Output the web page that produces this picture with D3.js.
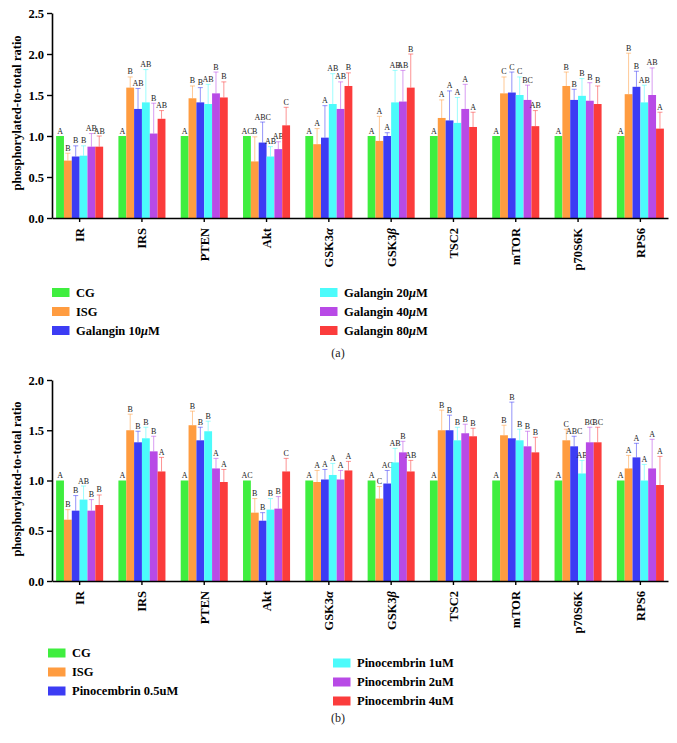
<!DOCTYPE html>
<html><head><meta charset="utf-8">
<script src="https://cdnjs.cloudflare.com/ajax/libs/d3/7.8.5/d3.min.js"></script>
<style>
body{margin:0;background:#fff;}
svg{display:block;}
</style></head>
<body>
<svg id="chart" width="677" height="743"></svg>
<script>
const categories = ["IR","IRS","PTEN","Akt","GSK3α","GSK3β","TSC2","mTOR","p70S6K","RPS6"];
const colors = ["#3fee3f","#ff9c40","#3c3cf4","#4cfbfb","#b84ae6","#fb3c3c"];

// Panel (a)
const seriesA = ["CG","ISG","Galangin 10μM","Galangin 20μM","Galangin 40μM","Galangin 80μM"];
const cgA   = [1,1,1,1,1,1,1,1,1,1];
const isgA  = [0.70,1.59,1.46,0.69,0.90,0.94,1.22,1.52,1.61,1.51];
const g10A  = [0.75,1.33,1.41,0.92,0.98,1.00,1.19,1.53,1.44,1.60];
const g20A  = [0.76,1.41,1.39,0.75,1.39,1.41,1.16,1.50,1.49,1.41];
const g40A  = [0.87,1.03,1.52,0.84,1.33,1.42,1.33,1.44,1.43,1.50];
const g80A  = [0.87,1.21,1.47,1.13,1.61,1.59,1.11,1.12,1.39,1.09];
const cgErrA  = [0,0,0,0,0,0,0,0,0,0];
const isgErrA = [0.09,0.13,0.15,0.30,0.19,0.30,0.22,0.20,0.17,0.50];
const g10ErrA = [0.13,0.25,0.18,0.25,0.39,0.04,0.36,0.25,0.13,0.19];
const g20ErrA = [0.12,0.40,0.24,0.12,0.37,0.39,0.31,0.22,0.21,0.21];
const g40ErrA = [0.16,0.37,0.26,0.09,0.33,0.38,0.30,0.18,0.22,0.33];
const g80ErrA = [0.13,0.10,0.19,0.22,0.16,0.41,0.18,0.19,0.22,0.20];
const lettersA = [
  ["A","B","B","B","AB","AB"],
  ["A","B","AB","AB","B","AB"],
  ["A","B","B","AB","B","B"],
  ["AC","B","ABC","AB","AB","C"],
  ["A","A","A","AB","AB","B"],
  ["A","A","A","AB","AB","B"],
  ["A","A","A","A","A","A"],
  ["A","C","C","C","BC","AB"],
  ["A","B","B","B","B","B"],
  ["A","B","B","AB","AB","A"]
];
const yTicksA = [0,0.5,1.0,1.5,2.0,2.5];

// Panel (b)
const seriesB = ["CG","ISG","Pinocembrin 0.5uM","Pinocembrin 1uM","Pinocembrin 2uM","Pinocembrin 4uM"];
const cgB   = [1,1,1,1,1,1,1,1,1,1];
const isgB  = [0.61,1.50,1.55,0.68,0.985,0.82,1.50,1.45,1.40,1.12];
const p05B  = [0.70,1.38,1.40,0.60,1.01,0.97,1.50,1.42,1.34,1.23];
const p1B   = [0.81,1.42,1.49,0.71,1.055,1.18,1.40,1.40,1.07,1.00];
const p2B   = [0.70,1.29,1.12,0.72,1.01,1.28,1.47,1.34,1.38,1.12];
const p4B   = [0.756,1.09,0.985,1.09,1.10,1.09,1.44,1.28,1.38,0.955];
const cgErrB  = [0,0,0,0,0,0,0,0,0,0];
const isgErrB = [0.10,0.16,0.14,0.14,0.115,0.12,0.20,0.10,0.11,0.13];
const p05ErrB = [0.15,0.11,0.13,0.08,0.10,0.13,0.15,0.36,0.10,0.14];
const p1ErrB  = [0.135,0.11,0.10,0.11,0.115,0.14,0.13,0.11,0.13,0.16];
const p2ErrB  = [0.11,0.15,0.10,0.12,0.09,0.11,0.09,0.15,0.15,0.29];
const p4ErrB  = [0.10,0.14,0.125,0.13,0.09,0.11,0.08,0.15,0.15,0.285];
const lettersB = [
  ["A","B","B","AB","B","B"],
  ["A","B","B","B","B","A"],
  ["A","B","B","B","A","A"],
  ["AC","B","B","B","B","C"],
  ["A","A","A","A","A","A"],
  ["A","C","AC","AB","B","AB"],
  ["A","B","B","B","B","B"],
  ["A","B","B","B","B","B"],
  ["A","C","ABC","AB","BC","BC"],
  ["A","A","A","A","A","A"]
];
const yTicksB = [0,0.5,1.0,1.5,2.0];

const svg = d3.select("#chart");
const SERIF = "'Liberation Serif','Times New Roman',serif";

function richText(sel, str) {
  const parts = str.split(/([μαβ])/);
  parts.forEach(p => {
    if (!p) return;
    const t = sel.append("tspan").text(p);
    if (/[μαβ]/.test(p)) t.attr("font-style","italic");
  });
}

function drawPanel(cfg) {
  const g = svg.append("g");
  const y = d3.scaleLinear().domain([0, cfg.yMax]).range([cfg.y0, cfg.y1]);
  const x = d3.scaleBand().domain(categories).range([52, 668]).paddingInner(0.245).paddingOuter(0.066);
  const xs = d3.scaleBand().domain(d3.range(6)).range([0, x.bandwidth()]).padding(0);

  categories.forEach((cat, i) => {
    const gg = g.append("g").attr("transform", `translate(${x(cat)},0)`);
    for (let s = 0; s < 6; s++) {
      const v = cfg.values[s][i], e = cfg.errs[s][i];
      const bx = xs(s), bw = xs.bandwidth(), cx = bx + bw / 2;
      if (e > 0) {
        gg.append("line").attr("x1", cx).attr("x2", cx).attr("y1", y(v)).attr("y2", y(v + e))
          .attr("stroke", colors[s]).attr("stroke-opacity", 0.55).attr("stroke-width", 1);
        gg.append("line").attr("x1", cx - 2.5).attr("x2", cx + 2.5).attr("y1", y(v + e)).attr("y2", y(v + e))
          .attr("stroke", colors[s]).attr("stroke-opacity", 0.55).attr("stroke-width", 1);
      }
      gg.append("rect").attr("x", bx).attr("y", y(v)).attr("width", bw).attr("height", y(0) - y(v))
        .attr("fill", colors[s]);
      gg.append("text").attr("x", cx).attr("y", y(v + e) - 2.5)
        .attr("text-anchor", "middle").attr("font-family", SERIF).attr("font-size", 8)
        .attr("fill", "#222").text(cfg.letters[i][s]);
    }
  });

  const ya = g.append("g").attr("transform", "translate(52,0)")
    .call(d3.axisLeft(y).tickValues(cfg.yTicks).tickFormat(d3.format(".1f")).tickSize(5).tickSizeOuter(0).tickPadding(3));
  ya.select(".domain").attr("stroke-width", 1.6);
  ya.selectAll(".tick line").attr("stroke-width", 1.4);
  ya.selectAll(".tick text").attr("font-family", SERIF).attr("font-weight", "bold").attr("font-size", 12.5).attr("fill", "#000");

  const xa = g.append("g").attr("transform", `translate(0,${cfg.y0})`)
    .call(d3.axisBottom(x).tickSize(4).tickSizeOuter(0).tickFormat(""));
  xa.select(".domain").attr("stroke-width", 1.6);
  xa.selectAll(".tick line").attr("stroke-width", 1.4);

  categories.forEach(cat => {
    const t = g.append("text")
      .attr("transform", `translate(${x(cat) + x.bandwidth() / 2},${cfg.y0 + 10}) rotate(-90)`)
      .attr("text-anchor", "end").attr("dy", "0.35em")
      .attr("font-family", SERIF).attr("font-weight", "bold").attr("font-size", 12.5).attr("fill", "#000");
    richText(t, cat);
  });

  g.append("text").attr("transform", `translate(17,${cfg.labelY}) rotate(-90)`)
    .attr("text-anchor", "middle").attr("dy", "0.35em")
    .attr("font-family", SERIF).attr("font-weight", "bold").attr("font-size", 12.5)
    .text("phosphorylated-to-total ratio");

  cfg.series.forEach((name, s) => {
    const col = s < 3 ? 0 : 1, row = s % 3;
    const lx = cfg.legX[col], ly = cfg.legY[col] + row * 19;
    g.append("rect").attr("x", lx).attr("y", ly - 4.5).attr("width", 17.5).attr("height", 9).attr("fill", colors[s]);
    const t = g.append("text").attr("x", lx + 24).attr("y", ly).attr("dy", "0.35em")
      .attr("font-family", SERIF).attr("font-weight", "bold").attr("font-size", 12.5).attr("fill", "#000");
    richText(t, name);
  });

  g.append("text").attr("x", 338).attr("y", cfg.capY).attr("text-anchor", "middle")
    .attr("font-family", SERIF).attr("font-size", 12).attr("fill", "#222").text(cfg.caption);
}

drawPanel({
  yMax: 2.5, y0: 218, y1: 13, yTicks: yTicksA,
  values: [cgA, isgA, g10A, g20A, g40A, g80A],
  errs: [cgErrA, isgErrA, g10ErrA, g20ErrA, g40ErrA, g80ErrA],
  letters: lettersA, series: seriesA, labelY: 113,
  legX: [52, 320], legY: [292.5, 292.5], capY: 357, caption: "(a)"
});
drawPanel({
  yMax: 2.0, y0: 581, y1: 380, yTicks: yTicksB,
  values: [cgB, isgB, p05B, p1B, p2B, p4B],
  errs: [cgErrB, isgErrB, p05ErrB, p1ErrB, p2ErrB, p4ErrB],
  letters: lettersB, series: seriesB, labelY: 479,
  legX: [48, 333], legY: [653, 663], capY: 722, caption: "(b)"
});
</script>
</body></html>
